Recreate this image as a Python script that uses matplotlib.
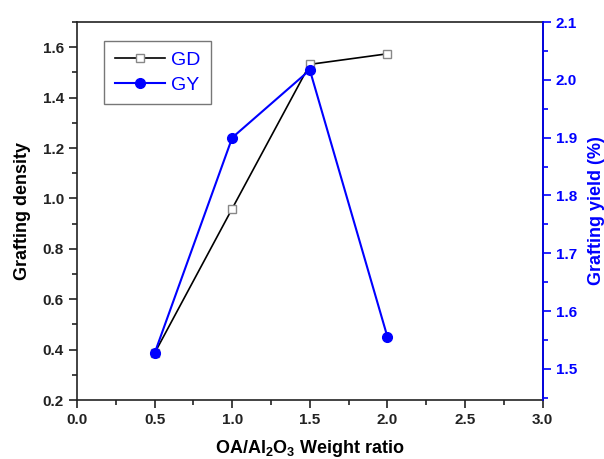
import matplotlib
matplotlib.use("Agg")
import matplotlib.pyplot as plt
from matplotlib.ticker import MultipleLocator

plt.rcParams['font.family'] = ['Liberation Sans', 'DejaVu Sans']
plt.rcParams['mathtext.fontset'] = 'custom'
plt.rcParams['mathtext.rm'] = 'Liberation Sans:bold'
plt.rcParams['mathtext.it'] = 'Liberation Sans:bold'
plt.rcParams['mathtext.bf'] = 'Liberation Sans:bold'

ratio = [0.5, 1.0, 1.5, 2.0]
gd = [0.386, 0.96, 1.532, 1.574]
gy = [1.527, 1.900, 2.017, 1.555]

blue = '#0000ff'
fig = plt.figure(figsize=(6.04, 4.59), dpi=100)
ax = fig.add_axes([0.1275, 0.1285, 0.771, 0.8235])
ax2 = ax.twinx()

l1, = ax.plot(ratio, gd, color='black', lw=1.2, marker='s', ms=6,
              mfc='white', mec='#888888', mew=1.0, label='GD', zorder=3)
l2, = ax2.plot(ratio, gy, color=blue, lw=1.5, marker='o', ms=7,
               mfc=blue, mec=blue, label='GY', zorder=3)

ax.set_xlim(0, 3.0)
ax.set_ylim(0.2, 1.7)
ax2.set_ylim(1.446, 2.1)

ax.xaxis.set_major_locator(MultipleLocator(0.5))
ax.xaxis.set_minor_locator(MultipleLocator(0.25))
ax.yaxis.set_major_locator(MultipleLocator(0.2))
ax.yaxis.set_minor_locator(MultipleLocator(0.1))
ax2.yaxis.set_major_locator(MultipleLocator(0.1))
ax2.yaxis.set_minor_locator(MultipleLocator(0.05))

for a in (ax, ax2):
    for s in a.spines.values():
        s.set_linewidth(1.2)
ax.spines['top'].set_color('#222222')
ax.spines['bottom'].set_color('#222222')
ax.spines['left'].set_color('#222222')
ax2.spines['right'].set_color(blue)
ax2.spines['left'].set_visible(False)
ax2.spines['top'].set_visible(False)
ax2.spines['bottom'].set_visible(False)

ax.tick_params(axis='both', which='major', direction='out', length=6, width=1.2,
               labelsize=11, color='#222222')
ax.tick_params(axis='both', which='minor', direction='out', length=3.5, width=1.2,
               color='#222222')
ax2.tick_params(axis='y', which='major', direction='out', length=6, width=1.2,
                labelsize=11, color=blue, labelcolor=blue)
ax2.tick_params(axis='y', which='minor', direction='out', length=3.5, width=1.2,
                color=blue)

for lab in ax.get_xticklabels() + ax.get_yticklabels():
    lab.set_fontweight('bold')
    lab.set_color('#222222')
for lab in ax2.get_yticklabels():
    lab.set_fontweight('bold')

ax.set_xlabel('OA/Al$_2$O$_3$ Weight ratio', fontsize=13, fontweight='bold', labelpad=8)
ax.set_ylabel('Grafting density', fontsize=13, fontweight='bold', labelpad=8)
ax2.set_ylabel('Grafting yield (%)', fontsize=13, fontweight='bold', color=blue, labelpad=8)

leg = ax.legend(handles=[l1, l2], loc='upper left', bbox_to_anchor=(0.058, 0.95),
                borderaxespad=0,
                fontsize=14, frameon=True, fancybox=False, edgecolor='#555555',
                handlelength=2.6, handletextpad=0.3, borderpad=0.55, labelspacing=0.35)
leg.get_frame().set_linewidth(1.0)
for t in leg.get_texts():
    t.set_color(blue)

fig.savefig('out.png', dpi=100)
